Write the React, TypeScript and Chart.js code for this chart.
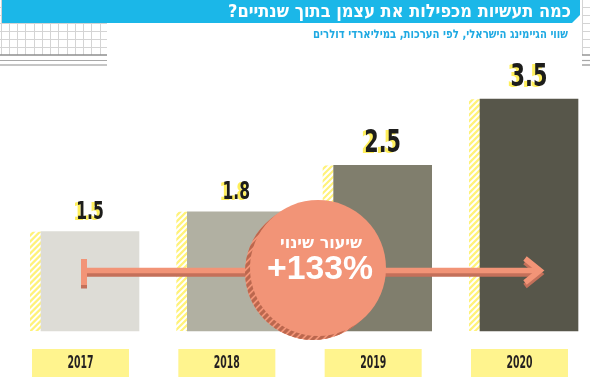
import React, { useEffect, useRef } from "react";
import { Chart, registerables } from "chart.js";

Chart.register(...registerables);

// ---- data ----
const categories = ["2017", "2018", "2019", "2020"];
const values = [1.5, 1.8, 2.5, 3.5];
const valueLabels = ["1.5", "1.8", "2.5", "3.5"];
const titleText = "כמה תעשיות מכפילות את עצמן בתוך שנתיים?";
const subtitleText = "שווי הגיימינג הישראלי, לפי הערכות, במיליארדי דולרים";
const badgeTitle = "שיעור שינוי";

// ---- style ----
const barColors = ["#dddcd6", "#b1b0a2", "#807e6d", "#57564a"];
const labelSizes = [24, 24, 32, 32];
const BLUE = "#1bb7e8";
const SUB_BLUE = "#1ea9e2";
const YELLOW = "#fff27a";
const BOX_YELLOW = "#fff48e";
const SALMON = "#f29477";
const SALMON_DARK = "#bb674e";
const NARROW = "'Liberation Sans Narrow','DejaVu Sans Condensed','Liberation Sans',sans-serif";
const HEB = "'DejaVu Sans','Liberation Sans',sans-serif";

function fitText(
  ctx: CanvasRenderingContext2D,
  text: string,
  x: number,
  y: number,
  font: string,
  color: string,
  targetW: number,
  align: CanvasTextAlign,
  dir: "ltr" | "rtl",
  baseline: CanvasTextBaseline = "middle"
) {
  ctx.save();
  ctx.font = font;
  (ctx as any).direction = dir;
  ctx.textAlign = align;
  ctx.textBaseline = baseline;
  const w = ctx.measureText(text).width;
  const s = w > 0 ? targetW / w : 1;
  ctx.translate(x, y);
  ctx.scale(s, 1);
  ctx.fillStyle = color;
  ctx.fillText(text, 0, 0);
  ctx.restore();
}

function drawGrid(ctx: CanvasRenderingContext2D, x0: number, y0: number, x1: number, y1: number, sx: number, sy: number) {
  ctx.save();
  ctx.beginPath();
  ctx.rect(x0, y0, x1 - x0, y1 - y0);
  ctx.clip();
  ctx.fillStyle = "#ffffff";
  ctx.fillRect(x0, y0, x1 - x0, y1 - y0);
  ctx.strokeStyle = "#d4d4d4";
  ctx.lineWidth = 1;
  ctx.beginPath();
  for (let x = sx; x <= x1 + 1; x += 8.25) {
    ctx.moveTo(Math.round(x) + 0.5, y0);
    ctx.lineTo(Math.round(x) + 0.5, y1);
  }
  for (let y = sy; y <= y1 + 1; y += 8.1) {
    ctx.moveTo(x0, Math.round(y) + 0.5);
    ctx.lineTo(x1, Math.round(y) + 0.5);
  }
  ctx.stroke();
  ctx.restore();
}

function paperLines(ctx: CanvasRenderingContext2D, x0: number, x1: number) {
  ctx.save();
  const lines: [number, string, number][] = [
    [55, "#8e8e8e", 1.4],
    [60.5, "#a8a8a8", 1.2],
    [65, "#8e8e8e", 1.2],
  ];
  for (const [y, c, w] of lines) {
    ctx.strokeStyle = c;
    ctx.lineWidth = w;
    ctx.beginPath();
    ctx.moveTo(x0, y);
    ctx.lineTo(x1, y);
    ctx.stroke();
  }
  ctx.restore();
}

function hatch(ctx: CanvasRenderingContext2D, x: number, y: number, w: number, h: number, color: string, lw: number, gap: number) {
  ctx.save();
  ctx.beginPath();
  ctx.rect(x, y, w, h);
  ctx.clip();
  ctx.strokeStyle = color;
  ctx.lineWidth = lw;
  ctx.beginPath();
  for (let t = -w - 20; t < h + w + 20; t += gap) {
    ctx.moveTo(x - 5, y + t + w + 5);
    ctx.lineTo(x + w + 5, y + t - 5);
  }
  ctx.stroke();
  ctx.restore();
}

const decor = {
  id: "decor",
  beforeDraw(chart: any) {
    const ctx: CanvasRenderingContext2D = chart.ctx;
    const W = chart.width;
    ctx.save();
    ctx.fillStyle = "#ffffff";
    ctx.fillRect(0, 0, W, chart.height);

    // notebook paper peeking out
    drawGrid(ctx, 0, 0, 107, 55, 0.7, -1.5);
    drawGrid(ctx, 582, 0, W, 55, 582, -1.5);
    paperLines(ctx, 0, 107);
    paperLines(ctx, 582, W);

    // title band
    ctx.fillStyle = BLUE;
    ctx.beginPath();
    ctx.moveTo(2, 0);
    ctx.lineTo(580, 0);
    ctx.lineTo(580, 15);
    ctx.lineTo(572, 23);
    ctx.lineTo(2, 23);
    ctx.closePath();
    ctx.fill();
    ctx.restore();

    fitText(ctx, titleText, 571, 12.5, `bold 18px ${HEB}`, "#ffffff", 343, "right", "rtl");
    fitText(ctx, subtitleText, 568, 34.5, `bold 12px ${HEB}`, SUB_BLUE, 255, "right", "rtl");
  },
  beforeDatasetsDraw(chart: any) {
    const ctx: CanvasRenderingContext2D = chart.ctx;
    const meta = chart.getDatasetMeta(0);
    meta.data.forEach((bar: any) => {
      const left = bar.x - bar.width / 2;
      hatch(ctx, left - 11, bar.y, 11, bar.base - bar.y, YELLOW, 2.2, 6);
    });
  },
  afterDatasetsDraw(chart: any) {
    const ctx: CanvasRenderingContext2D = chart.ctx;
    const meta = chart.getDatasetMeta(0);
    const bars = meta.data;

    // value labels
    bars.forEach((bar: any, i: number) => {
      const size = labelSizes[i];
      const font = `bold ${size}px ${NARROW}`;
      const tw = size * 1.15;
      fitText(ctx, valueLabels[i], bar.x - 3, bar.y - 13 + 1, font, "#ffef5a", tw, "center", "ltr", "alphabetic");
      fitText(ctx, valueLabels[i], bar.x, bar.y - 13, font, "#1d1d1b", tw, "center", "ltr", "alphabetic");
    });

    // year boxes
    bars.forEach((bar: any, i: number) => {
      const cx = bar.x - 9.5;
      ctx.save();
      ctx.fillStyle = BOX_YELLOW;
      ctx.fillRect(cx - 48.5, 349, 97, 28);
      ctx.restore();
      fitText(ctx, categories[i], cx, 364, `bold 17px ${NARROW}`, "#231f20", 26, "center", "ltr");
    });

    // arrow from first to last bar
    const first = bars[0];
    const last = bars[bars.length - 1];
    const x0 = first.x - 9;
    const x1 = last.x + 13;
    const ay = 270.5;
    const drawArrow = (dy: number, color: string) => {
      ctx.save();
      ctx.fillStyle = color;
      ctx.strokeStyle = color;
      ctx.fillRect(x0, 259 + dy, 6, 26);
      ctx.fillRect(x0 + 6, ay - 2.75 + dy, x1 - x0 - 10, 5.5);
      ctx.lineWidth = 5.5;
      ctx.lineJoin = "miter";
      ctx.lineCap = "butt";
      ctx.beginPath();
      ctx.moveTo(x1 - 17, ay - 12 + dy);
      ctx.lineTo(x1 - 2, ay + dy);
      ctx.lineTo(x1 - 17, ay + 12 + dy);
      ctx.stroke();
      ctx.restore();
    };
    drawArrow(3.5, "#c4705a");
    drawArrow(0, SALMON);

    // badge circle
    const cx = 318;
    const cy = 268;
    const r = 68;
    ctx.save();
    ctx.beginPath();
    ctx.arc(cx - 5, cy + 4, r, 0, Math.PI * 2);
    ctx.fillStyle = SALMON;
    ctx.fill();
    ctx.clip();
    ctx.strokeStyle = SALMON_DARK;
    ctx.lineWidth = 3.2;
    ctx.beginPath();
    for (let t = -200; t < 200; t += 7) {
      ctx.moveTo(cx - 100 + t, cy + 100);
      ctx.lineTo(cx + 100 + t, cy - 100);
    }
    ctx.stroke();
    ctx.restore();

    ctx.save();
    ctx.beginPath();
    ctx.arc(cx, cy, r, 0, Math.PI * 2);
    ctx.fillStyle = SALMON;
    ctx.fill();
    ctx.restore();

    const pct = Math.round(((values[values.length - 1] - values[0]) / values[0]) * 100);
    fitText(ctx, badgeTitle, 321, 244, `bold 16px ${HEB}`, "#ffffff", 82, "center", "rtl");
    fitText(ctx, `+${pct}%`, 320, 270, `bold 34px 'Liberation Sans','DejaVu Sans',sans-serif`, "#ffffff", 106, "center", "ltr");
  },
};

export default function App() {
  const ref = useRef<HTMLCanvasElement | null>(null);
  useEffect(() => {
    if (!ref.current) return;
    const chart = new Chart(ref.current, {
      type: "bar",
      data: {
        labels: categories,
        datasets: [
          {
            data: values,
            backgroundColor: barColors,
            borderWidth: 0,
            barThickness: 98,
            clip: false,
          },
        ],
      },
      options: {
        responsive: false,
        maintainAspectRatio: false,
        animation: false,
        devicePixelRatio: 1,
        events: [],
        layout: { padding: { left: 90, right: 61, top: 66, bottom: 50 } },
        scales: {
          x: { display: false, offset: false },
          y: { display: false, min: 0, max: 4 },
        },
        plugins: {
          legend: { display: false },
          tooltip: { enabled: false },
          title: { display: false },
        },
      },
      plugins: [decor],
    } as any);
    return () => chart.destroy();
  }, []);
  return (
    <div style={{ position: "fixed", left: 0, top: 0, width: 590, height: 381, background: "#fff" }}>
      <canvas ref={ref} width={590} height={381} style={{ display: "block" }} />
    </div>
  );
}
